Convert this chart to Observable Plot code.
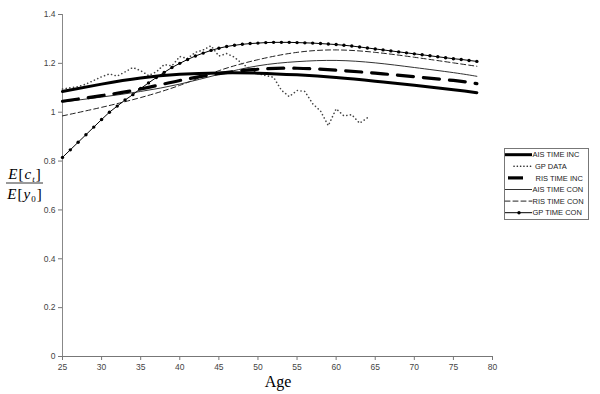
<!DOCTYPE html>
<html><head><meta charset="utf-8">
<script src="https://cdn.jsdelivr.net/npm/d3@7"></script>
<script src="https://cdn.jsdelivr.net/npm/@observablehq/plot@0.6"></script>
<style>
body{margin:0;background:#fff}
#c{position:relative;width:600px;height:394px;overflow:hidden}
#c svg{position:absolute;left:0;top:0}
</style>
</head><body><div id="c"></div>
<script>
// ---- data ----
const knotAges   = [25, 30, 35, 40, 45, 50, 55, 60, 65, 70, 75, 78];
const aisTimeInc = [1.085, 1.115, 1.140, 1.155, 1.161, 1.160, 1.153, 1.142, 1.127, 1.110, 1.092, 1.080];
const risTimeInc = [1.045, 1.068, 1.095, 1.130, 1.158, 1.176, 1.180, 1.172, 1.160, 1.145, 1.130, 1.117];
const aisTimeCon = [1.042, 1.062, 1.085, 1.115, 1.155, 1.190, 1.207, 1.212, 1.202, 1.183, 1.162, 1.147];
const risTimeCon = [0.985, 1.020, 1.060, 1.110, 1.170, 1.215, 1.245, 1.255, 1.245, 1.225, 1.202, 1.188];

const gpDataAges = [25,26,27,28,29,30,31,32,33,34,35,36,37,38,39,40,41,42,43,44,45,46,47,48,49,50,51,52,53,54,55,56,57,58,59,60,61,62,63,64];
const gpData     = [1.095,1.100,1.105,1.115,1.130,1.145,1.157,1.148,1.165,1.183,1.170,1.150,1.165,1.195,1.190,1.228,1.220,1.245,1.255,1.272,1.230,1.240,1.225,1.198,1.178,1.158,1.150,1.143,1.090,1.064,1.089,1.085,1.035,1.005,0.945,1.014,0.985,0.990,0.955,0.977];

const gpConAges = [25,26,27,28,29,30,31,32,33,34,35,36,37,38,39,40,41,42,43,44,45,46,47,48,49,50,51,52,53,54,55,56,57,58,59,60,61,62,63,64,65,66,67,68,69,70,71,72,73,74,75,76,77,78];
const gpTimeCon = [0.815,0.846,0.877,0.908,0.939,0.970,1.000,1.025,1.050,1.072,1.097,1.120,1.142,1.163,1.183,1.200,1.216,1.230,1.242,1.253,1.262,1.269,1.274,1.278,1.281,1.283,1.285,1.286,1.286,1.286,1.285,1.284,1.283,1.281,1.279,1.277,1.274,1.271,1.267,1.263,1.259,1.255,1.251,1.247,1.243,1.239,1.235,1.231,1.227,1.223,1.219,1.216,1.212,1.208];

const yTicks = [0, 0.2, 0.4, 0.6, 0.8, 1, 1.2, 1.4];
const xTicks = [25, 30, 35, 40, 45, 50, 55, 60, 65, 70, 75, 80];
const legendLabels = ["AIS TIME INC", "GP DATA", "RIS TIME INC", "AIS TIME CON", "RIS TIME CON", "GP TIME CON"];

// ---- tables ----
const knots = (vals) => knotAges.map((a, i) => ({age: a, v: vals[i]}));
const gpDataT = gpDataAges.map((a, i) => ({age: a, v: gpData[i]}));
const gpConT = gpConAges.map((a, i) => ({age: a, v: gpTimeCon[i]}));

const chart = Plot.plot({
  width: 600, height: 394,
  marginLeft: 62, marginRight: 108, marginTop: 14, marginBottom: 38,
  x: {domain: [25, 80]},
  y: {domain: [0, 1.4]},
  style: {fontFamily: "Liberation Sans, Arial, sans-serif", fontSize: "8.5px", color: "#333", background: "#fff"},
  marks: [
    Plot.axisY({ticks: yTicks, tickSize: 4, tickPadding: 3, tickFormat: d => String(d), label: null, stroke: "#777", fill: "#444"}),
    Plot.axisX({ticks: xTicks, tickSize: 4, tickPadding: 3, tickFormat: d => String(d), label: null, stroke: "#777", fill: "#444"}),
    Plot.ruleX([25], {stroke: "#888", strokeWidth: 1}),
    Plot.ruleY([0], {stroke: "#777", strokeWidth: 1}),
    Plot.line(knots(risTimeCon), {x: "age", y: "v", curve: "natural", stroke: "#222", strokeWidth: 1, strokeDasharray: "5,3"}),
    Plot.line(knots(aisTimeCon), {x: "age", y: "v", curve: "natural", stroke: "#333", strokeWidth: 1}),
    Plot.line(gpDataT, {x: "age", y: "v", stroke: "#444", strokeWidth: 1.6, strokeDasharray: "0.1,3.6", strokeLinecap: "round"}),
    Plot.line(knots(risTimeInc), {x: "age", y: "v", curve: "natural", stroke: "#000", strokeWidth: 3.2, strokeDasharray: "16,10"}),
    Plot.line(knots(aisTimeInc), {x: "age", y: "v", curve: "natural", stroke: "#000", strokeWidth: 3}),
    Plot.line(gpConT, {x: "age", y: "v", stroke: "#000", strokeWidth: 1}),
    Plot.dot(gpConT, {x: "age", y: "v", r: 1.7, fill: "#000", stroke: "none"})
  ]
});
const host = document.getElementById("c");
host.appendChild(chart);

// ---- overlay: axis titles and legend ----
const ov = d3.select(host).append("svg").attr("width", 600).attr("height", 394)
  .style("font-family", "Liberation Sans, Arial, sans-serif");

// x title
ov.append("text").attr("x", 278).attr("y", 387).attr("text-anchor", "middle")
  .style("font-family", "Liberation Serif, Times New Roman, serif").style("font-size", "16px").text("Age");

// y title (fraction)
const yt = ov.append("g").style("font-family", "Liberation Serif, Times New Roman, serif")
  .style("font-size", "15px").style("letter-spacing", "1px").style("font-style", "italic");
const num = yt.append("text").attr("x", 25).attr("y", 179).attr("text-anchor", "middle");
num.append("tspan").text("E");
num.append("tspan").style("font-style", "normal").text("[");
num.append("tspan").text("c");
num.append("tspan").style("font-size", "9px").attr("dy", 3).text("t");
num.append("tspan").style("font-style", "normal").attr("dy", -3).text("]");
yt.append("line").attr("x1", 6).attr("x2", 43).attr("y1", 183).attr("y2", 183).attr("stroke", "#000").attr("stroke-width", 0.8);
const den = yt.append("text").attr("x", 25).attr("y", 199).attr("text-anchor", "middle");
den.append("tspan").text("E");
den.append("tspan").style("font-style", "normal").text("[");
den.append("tspan").text("y");
den.append("tspan").style("font-size", "9px").style("font-style", "normal").attr("dy", 3).text("0");
den.append("tspan").style("font-style", "normal").attr("dy", -3).text("]");

// legend
const lg = ov.append("g");
lg.append("rect").attr("x", 504.5).attr("y", 148.5).attr("width", 84).attr("height", 71)
  .attr("fill", "#fff").attr("stroke", "#777").attr("stroke-width", 1);
const rowY = [154.7, 166.3, 177.9, 189.5, 201.1, 212.7];
const samples = [
  {x1: 505, x2: 532, w: 3, dash: null, c: "#000", tx: 532.5},
  {x1: 514, x2: 531, w: 1.6, dash: "0.1,3.2", c: "#222", tx: 535},
  {x1: 508, x2: 523, w: 3.2, dash: null, c: "#000", tx: 535.5},
  {x1: 505, x2: 532, w: 1, dash: null, c: "#333", tx: 532.5},
  {x1: 505, x2: 532, w: 1, dash: "5,3", c: "#222", tx: 532.5},
  {x1: 505, x2: 532, w: 1, dash: null, c: "#000", tx: 532.5}
];
legendLabels.forEach((lab, i) => {
  const s = samples[i];
  const l = lg.append("line").attr("x1", s.x1).attr("x2", s.x2).attr("y1", rowY[i]).attr("y2", rowY[i])
    .attr("stroke", s.c).attr("stroke-width", s.w);
  if (s.dash) l.attr("stroke-dasharray", s.dash).attr("stroke-linecap", "round");
  if (i === 5) lg.append("circle").attr("cx", 519).attr("cy", rowY[i]).attr("r", 1.7).attr("fill", "#000");
  lg.append("text").attr("x", s.tx).attr("y", rowY[i]).attr("dy", "0.35em")
    .style("font-size", "7.5px").attr("fill", "#222").text(lab);
});
</script></body></html>
